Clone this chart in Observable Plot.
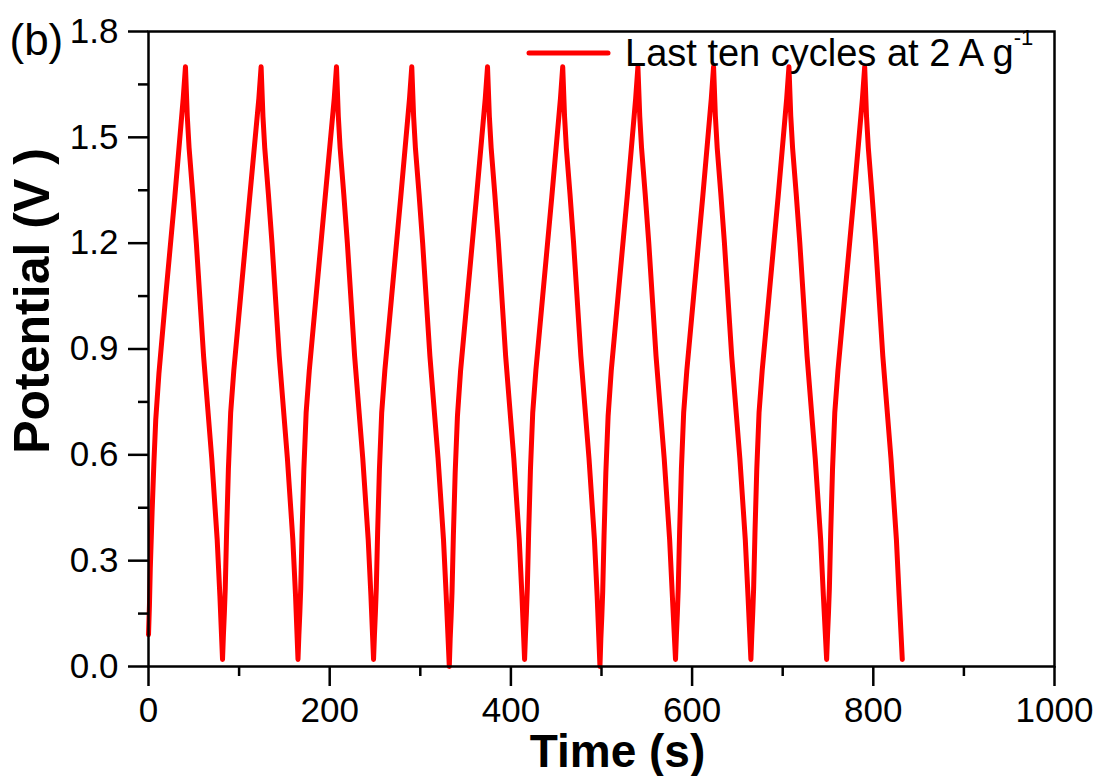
<!DOCTYPE html>
<html><head><meta charset="utf-8">
<script src="https://cdn.jsdelivr.net/npm/d3@7"></script>
<script src="https://cdn.jsdelivr.net/npm/@observablehq/plot@0.6"></script>
<style>body{margin:0;background:#fff;}</style>
</head><body><div id="chart"></div>
<script>
// Galvanostatic charge/discharge, last ten cycles (time in s, potential in V)
const time = [
0,1,2,4,6,8,11.5,19,29,38.3,40.8, 42.8,44.8,48.8,52.8,60.8,69.8,75.8,78.8,81.7,
82.7,83.7,84.7,86.2,88.2,90.7,94.2,101.7,111.7,121.8,124.3, 126.3,128.3,132.3,136.3,144.3,153.3,159.3,162.3,165.0,
166,167,168,169.5,171.5,174,177.5,185,195,205,207.5, 209.5,211.5,215.5,219.5,227.5,236.5,242.5,245.5,248.4,
249.4,250.4,251.4,252.9,254.9,257.4,260.9,268.4,278.4,288.1,290.6, 292.6,294.6,298.6,302.6,310.6,319.6,325.6,328.6,332.0,
333,334,335,336.5,338.5,341,344.5,352,362,371.7,374.2, 376.2,378.2,382.2,386.2,394.2,403.2,409.2,412.2,415.1,
416.1,417.1,418.1,419.6,421.6,424.1,427.6,435.1,445.1,454.7,457.2, 459.2,461.2,465.2,469.2,477.2,486.2,492.2,495.2,498.3,
499.3,500.3,501.3,502.8,504.8,507.3,510.8,518.3,528.3,537.7,540.2, 542.2,544.2,548.2,552.2,560.2,569.2,575.2,578.2,581.7,
582.7,583.7,584.7,586.2,588.2,590.7,594.2,601.7,611.7,621.2,623.7, 625.7,627.7,631.7,635.7,643.7,652.7,658.7,661.7,664.9,
665.9,666.9,667.9,669.4,671.4,673.9,677.4,684.9,694.9,704.4,706.9, 708.9,710.9,714.9,718.9,726.9,735.9,741.9,744.9,748.5,
749.5,750.5,751.5,753,755,757.5,761,768.5,778.5,788,790.5, 792.5,794.5,798.5,802.5,810.5,819.5,825.5,828.5,832.0
];
const potential = [
0.09,0.17,0.28,0.44,0.58,0.70,0.83,1.05,1.33,1.61,1.70, 1.56,1.47,1.34,1.20,0.88,0.59,0.36,0.20,0.02,
0.09,0.15,0.22,0.38,0.56,0.72,0.84,1.05,1.33,1.61,1.70, 1.56,1.47,1.34,1.20,0.88,0.59,0.36,0.20,0.02,
0.09,0.15,0.22,0.38,0.56,0.72,0.84,1.05,1.33,1.61,1.70, 1.56,1.47,1.34,1.20,0.88,0.59,0.36,0.20,0.02,
0.09,0.15,0.22,0.38,0.56,0.72,0.84,1.05,1.33,1.61,1.70, 1.56,1.47,1.34,1.20,0.88,0.59,0.36,0.20,0.00,
0.08,0.14,0.21,0.37,0.55,0.71,0.84,1.05,1.33,1.61,1.70, 1.56,1.47,1.34,1.20,0.88,0.59,0.36,0.20,0.02,
0.09,0.15,0.22,0.38,0.56,0.72,0.84,1.05,1.33,1.61,1.70, 1.56,1.47,1.34,1.20,0.88,0.59,0.36,0.20,0.00,
0.08,0.14,0.21,0.37,0.55,0.71,0.84,1.05,1.33,1.61,1.70, 1.56,1.47,1.34,1.20,0.88,0.59,0.36,0.20,0.02,
0.09,0.15,0.22,0.38,0.56,0.72,0.84,1.05,1.33,1.61,1.70, 1.56,1.47,1.34,1.20,0.88,0.59,0.36,0.20,0.02,
0.09,0.15,0.22,0.38,0.56,0.72,0.84,1.05,1.33,1.61,1.70, 1.56,1.47,1.34,1.20,0.88,0.59,0.36,0.20,0.02,
0.09,0.15,0.22,0.38,0.56,0.72,0.84,1.05,1.33,1.61,1.70, 1.56,1.47,1.34,1.20,0.88,0.59,0.36,0.20,0.02
];
const xMajorTicks = [0, 200, 400, 600, 800, 1000];
const xMinorTicks = [100, 300, 500, 700, 900];
const yMajorTicks = [0, 0.3, 0.6, 0.9, 1.2, 1.5, 1.8];
const yMinorTicks = [0.15, 0.45, 0.75, 1.05, 1.35, 1.65];
const seriesLabel = "Last ten cycles at 2 A g";
const seriesLabelSup = "-1";
const xLabel = "Time (s)";
const yLabel = "Potential (V )";
const panelLabel = "(b)";

const data = time.map((t, i) => ({t, v: potential[i]}));
const font = "'Liberation Sans', Arial, sans-serif";

const chart = Plot.plot({
  width: 1103, height: 776,
  marginLeft: 148, marginRight: 49, marginTop: 31, marginBottom: 110,
  style: {fontFamily: font, background: "#fff", color: "#000", overflow: "visible"},
  x: {domain: [0, 1000]},
  y: {domain: [0, 1.8]},
  marks: [
    Plot.line(data, {x: "t", y: "v", stroke: "#ff0000", strokeWidth: 5}),
    Plot.axisX({ticks: xMinorTicks, tickSize: 10, tickFormat: () => "", label: null, strokeWidth: 2.5}),
    Plot.axisX({ticks: xMajorTicks, tickSize: 20, tickPadding: 11, fontSize: 35, tickFormat: d3.format("d"), label: null, strokeWidth: 2.5}),
    Plot.axisY({ticks: yMinorTicks, tickSize: 10, tickFormat: () => "", label: null, strokeWidth: 2.5}),
    Plot.axisY({ticks: yMajorTicks, tickSize: 20, tickPadding: 10, fontSize: 35, tickFormat: d3.format(".1f"), label: null, strokeWidth: 2.5}),
    Plot.frame({stroke: "#000", strokeWidth: 2.5}),
    Plot.text([xLabel], {frameAnchor: "bottom", dx: 16, dy: 100, lineAnchor: "bottom", textAnchor: "middle", fontSize: 46, fontWeight: "bold", fill: "#000", text: d => d}),
    Plot.text([yLabel], {frameAnchor: "left", rotate: -90, dx: -100, dy: -48, lineAnchor: "bottom", textAnchor: "middle", fontSize: 50, fontWeight: "bold", fill: "#000", text: d => d}),
    Plot.text([panelLabel], {frameAnchor: "top-left", dx: -139, dy: 23, lineAnchor: "bottom", textAnchor: "start", fontSize: 44, fill: "#000", text: d => d})
  ]
});

const svg = d3.select(chart);
const lg = svg.append("g");
lg.append("line").attr("x1", 529).attr("x2", 608).attr("y1", 53).attr("y2", 53)
  .attr("stroke", "#ff0000").attr("stroke-width", 5).attr("stroke-linecap", "round");
const txt = lg.append("text").attr("x", 625).attr("y", 66).attr("font-size", 38)
  .attr("text-anchor", "start").attr("fill", "#000").attr("font-family", font);
txt.append("tspan").text(seriesLabel);
txt.append("tspan").attr("font-size", 22).attr("dy", -21).text(seriesLabelSup);

document.getElementById("chart").appendChild(chart);
</script>
</body></html>
